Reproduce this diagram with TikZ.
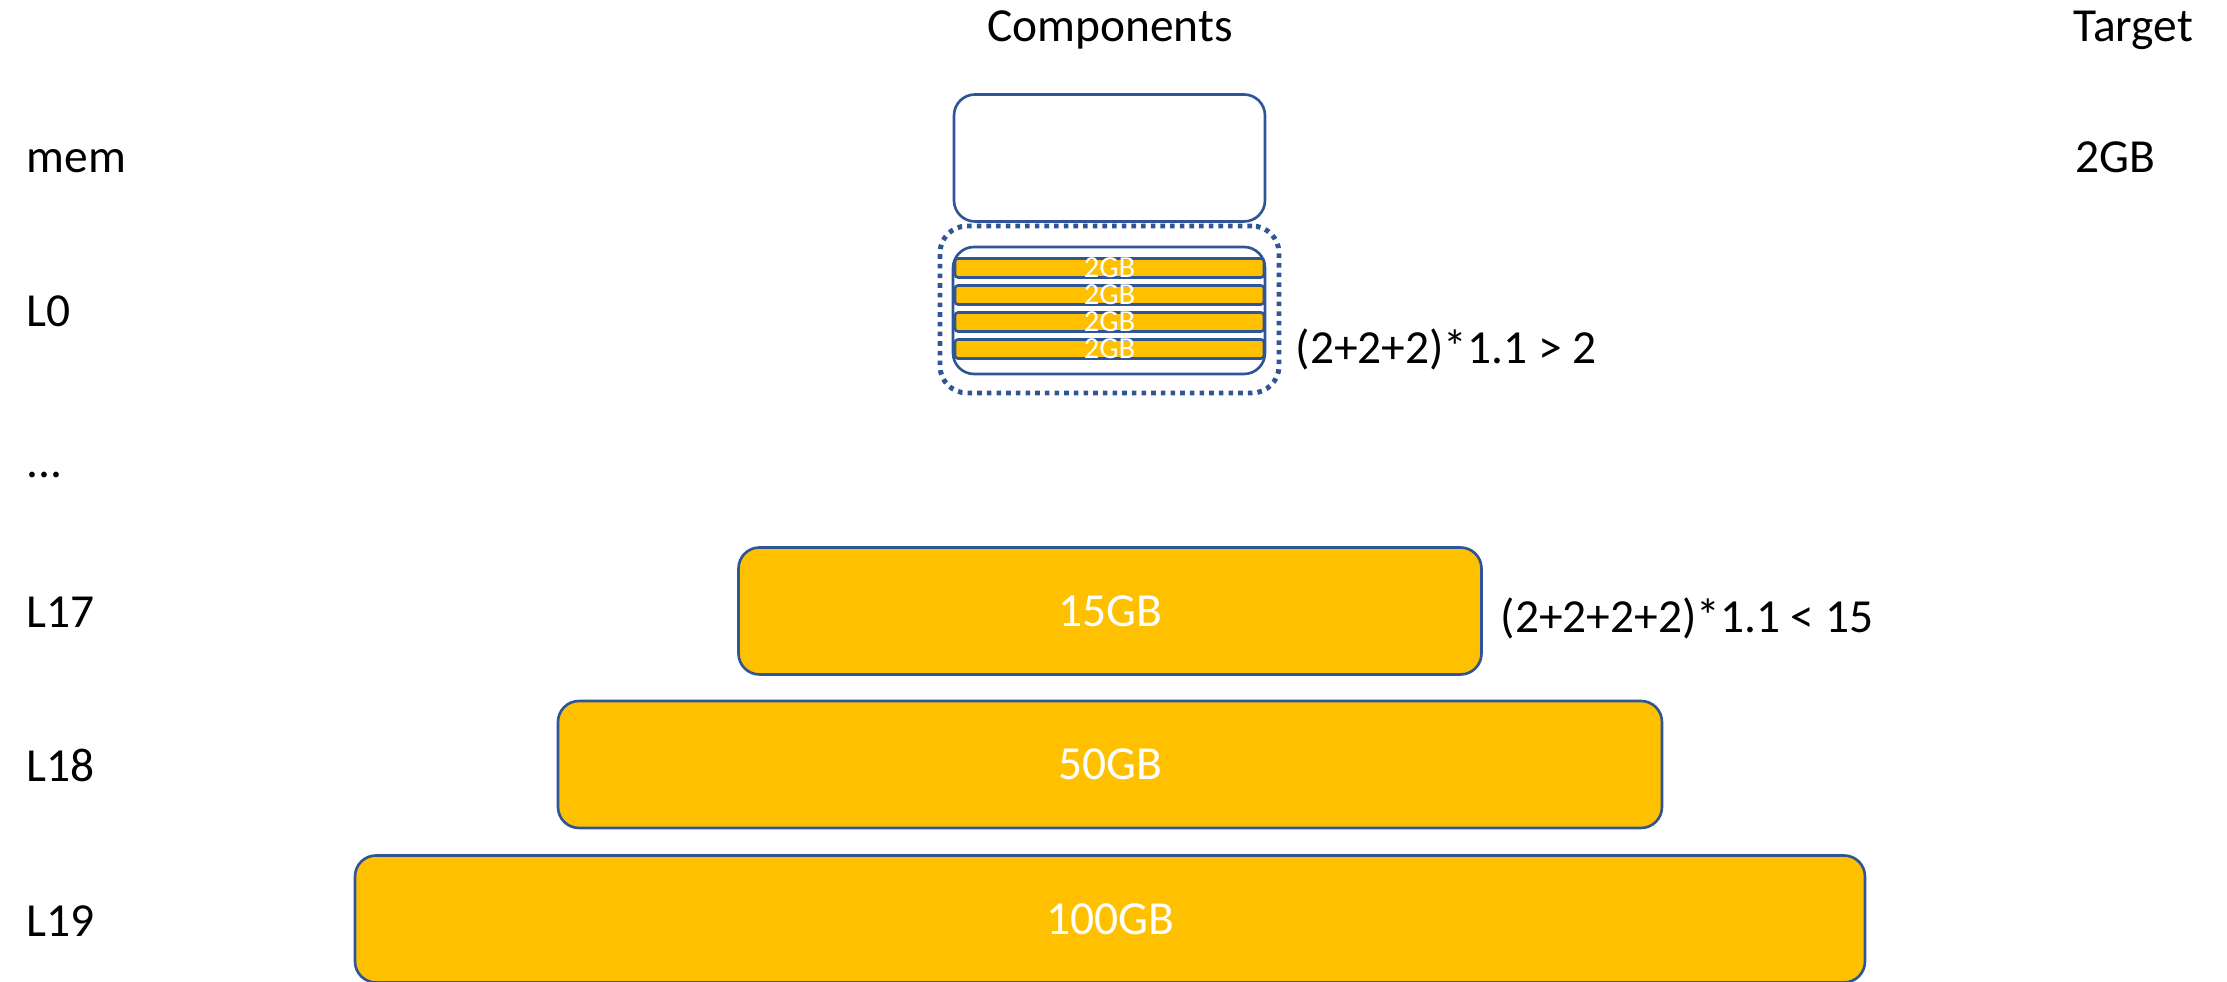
\documentclass[tikz,border=0pt]{standalone}
\usepackage{fontspec}
\setmainfont{Carlito}
\usepackage{xcolor}
\usepackage{tikz}
\definecolor{shapeblue}{HTML}{2F5597}
\definecolor{levelyellow}{HTML}{FFC000}

\begin{document}
\begin{tikzpicture}[
    font=\fontsize{13.5}{16}\selectfont,
    rowlabel/.style={anchor=base west,inner sep=0pt},
    levelbox/.style={draw=shapeblue,line width=0.75pt,fill=levelyellow,
      rounded corners=0.21cm,minimum height=1.27cm,inner sep=0pt,text=white},
    emptybox/.style={levelbox,fill=white,minimum width=3.11cm},
    sstbar/.style={draw=shapeblue,line width=0.75pt,fill=levelyellow,
      rounded corners=0.03cm,minimum width=3.09cm,minimum height=0.19cm,
      inner sep=0pt},
    sstlabel/.style={font=\fontsize{8.7}{10}\selectfont,text=white,
      inner sep=0pt},
    pickedset/.style={draw=shapeblue,line width=1.4pt,
      dash pattern=on 1.3pt off 1.45pt,rounded corners=0.27cm,
      minimum width=3.39cm,minimum height=1.67cm}
  ]
    \useasboundingbox (0,0) rectangle (22.27,9.82);
    \node[anchor=base] (comphead) at (11.10,9.40) {Components};
    \node[rowlabel] (targethead) at (20.73,9.40) {Target};
    \node[rowlabel] (memtarget) at (20.75,8.09) {2GB};
    \foreach \lname/\ltext/\ybase in {memrow/mem/8.09,lzerorow/L0/6.55,
        lseventeenrow/L17/3.54,leighteenrow/L18/2.00,lnineteenrow/L19/0.45} {
      \node[rowlabel] (\lname) at (0.26,\ybase) {\ltext};
    }
    \node[rowlabel] (gaprow) at (0.26,5.04) {...};
    \node[emptybox] (membox) at (11.095,8.24) {};
    \node[emptybox,minimum width=3.12cm] (lzerobox) at (11.09,6.715) {};
    \foreach \i in {0,...,3} {
      \pgfmathsetmacro{\ybar}{7.14-0.27*\i}
      \node[sstbar] (sst\i) at (11.095,\ybar) {};
      \node[sstlabel] (sstlabel\i) at (sst\i.center) {2GB};
    }
    \node[pickedset] (compactset) at (11.095,6.725) {};
    \node[rowlabel] (lzerocheck) at (12.95,6.18) {(2+2+2)*1.1 > 2};
    \foreach \bname/\bwidth/\ycenter/\btext in {lseventeenbox/7.43/3.71/15GB,
        leighteenbox/11.04/2.175/50GB,lnineteenbox/15.10/0.63/100GB} {
      \node[levelbox,minimum width=\bwidth cm] (\bname) at (11.10,\ycenter)
        {\btext};
    }
    \node[rowlabel] (lseventeencheck) at (15.00,3.49) {(2+2+2+2)*1.1 < 15};
\end{tikzpicture}
\end{document}
